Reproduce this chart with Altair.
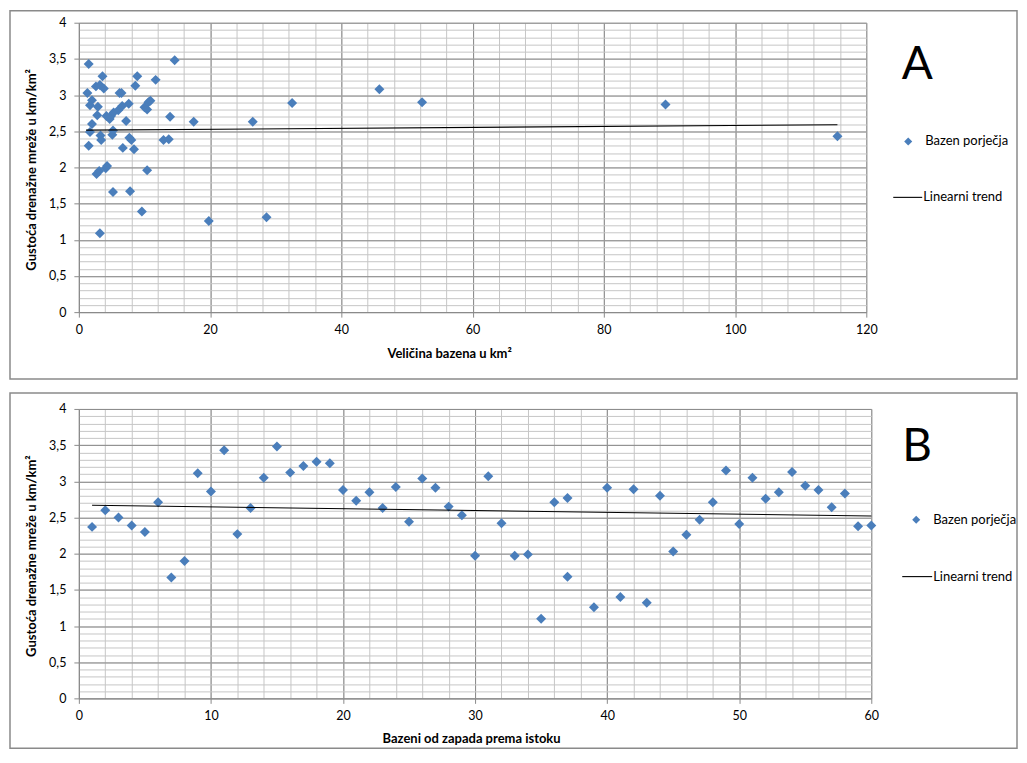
import altair as alt
import pandas as pd

# ---------------- data ----------------
# Panel A: basin size (km2) vs drainage density
size_a = [1.5, 1.3, 2.0, 1.7, 1.5, 1.7, 2.0, 2.8, 2.9, 2.6,
          3.2, 3.6, 3.8, 3.3, 3.4, 2.7, 3.1, 3.2, 4.1, 4.3,
          4.2, 4.7, 4.9, 5.3, 5.2, 5.1, 5.2, 6.0, 6.2, 6.5,
          6.6, 6.7, 7.2, 7.6, 7.7, 8.0, 7.8, 8.4, 8.6, 8.9,
          9.6, 10.0, 10.4, 10.6, 10.9, 10.4, 11.7, 12.9, 13.7, 13.9,
          14.6, 17.5, 19.8, 26.5, 28.6, 32.5, 45.8, 52.3, 89.4, 115.6]
dens_a = [3.43, 3.03, 2.93, 2.86, 2.30, 2.49, 2.60, 2.72, 2.84, 3.12,
          3.14, 3.26, 3.09, 2.44, 2.38, 1.91, 1.95, 1.09, 1.99, 2.02,
          2.71, 2.67, 2.71, 2.76, 2.51, 2.45, 1.66, 2.79, 3.03, 3.03,
          2.85, 2.27, 2.64, 2.88, 2.41, 2.38, 1.67, 2.25, 3.13, 3.26,
          1.39, 2.83, 2.80, 2.90, 2.92, 1.96, 3.21, 2.38, 2.39, 2.70,
          3.48, 2.63, 1.26, 2.63, 1.31, 2.89, 3.08, 2.90, 2.87, 2.43]
trend_a_x = [1.1, 115.6]
trend_a_y = [2.515, 2.59]

# Panel B: basins ordered west -> east
idx_b = [1, 2, 3, 4, 5, 6, 7, 8, 9, 10,
         11, 12, 13, 14, 15, 16, 17, 18, 19, 20,
         21, 22, 23, 24, 25, 26, 27, 28, 29, 30,
         31, 32, 33, 34, 35, 36, 37, 37, 39, 40,
         41, 42, 43, 44, 45, 46, 47, 48, 49, 50,
         51, 52, 53, 54, 55, 56, 57, 58, 59, 60]
dens_b = [2.37, 2.60, 2.50, 2.39, 2.30, 2.71, 1.67, 1.90, 3.11, 2.86,
          3.43, 2.27, 2.63, 3.05, 3.48, 3.12, 3.21, 3.27, 3.25, 2.88,
          2.73, 2.85, 2.63, 2.92, 2.44, 3.04, 2.91, 2.65, 2.53, 1.97,
          3.07, 2.42, 1.97, 1.99, 1.10, 2.71, 2.77, 1.68, 1.26, 2.91,
          1.40, 2.89, 1.32, 2.80, 2.03, 2.26, 2.47, 2.71, 3.15, 2.41,
          3.05, 2.76, 2.85, 3.13, 2.94, 2.88, 2.64, 2.83, 2.38, 2.39]
trend_b_x = [1, 60]
trend_b_y = [2.67, 2.52]

y_major = [0, 0.5, 1, 1.5, 2, 2.5, 3, 3.5, 4]
y_minor = [round(i * 0.1, 1) for i in range(41)]
xa_major = [0, 20, 40, 60, 80, 100, 120]
xa_minor = list(range(0, 121, 4))
xb_major = [0, 10, 20, 30, 40, 50, 60]
xb_minor = list(range(0, 61, 2))

y_title = "Gustoća drenažne mreže u km/km²"
xa_title = "Veličina bazena u km²"
xb_title = "Bazeni od zapada prema istoku"
legend_pts = "Bazen porječja"
legend_line = "Linearni trend"

# ---------------- style ----------------
FONT = "Lato"
GRID_MAJ = "#8a8a8a"
GRID_MIN = "#c6c6c6"
BLUE = "#4a7ebb"
LABEL_EXPR = "replace(toString(datum.value), '.', ',')"


def panel(xs, ys, xdomain, width, x_minor, x_major, x_title, x_title_x, x_title_y,
          tx, ty, letter, frame, leg):
    height = 290
    df = pd.DataFrame({"x": xs, "y": ys})
    tdf = pd.DataFrame({"x": tx, "y": ty})
    xsc = alt.Scale(domain=xdomain, nice=False, zero=False)
    ysc = alt.Scale(domain=[0, 4], nice=False)

    minor = alt.Chart(df).mark_point(opacity=0).encode(
        x=alt.X("x:Q", scale=xsc, axis=alt.Axis(
            values=x_minor, grid=True, gridColor=GRID_MIN, labels=False,
            ticks=False, domain=False, title=None, orient="bottom")),
        y=alt.Y("y:Q", scale=ysc, axis=alt.Axis(
            values=y_minor, grid=True, gridColor=GRID_MIN, labels=False,
            ticks=False, domain=False, title=None, orient="left")),
    )

    points = alt.Chart(df).mark_point(
        shape="diamond", filled=True, size=100, color=BLUE, opacity=1
    ).encode(
        x=alt.X("x:Q", scale=xsc, axis=alt.Axis(
            values=x_major, grid=True, gridColor=GRID_MAJ, domainColor=GRID_MAJ,
            tickColor=GRID_MAJ, tickSize=5, labelFont=FONT, labelFontSize=12.5,
            labelColor="black", labelPadding=6, labelFlush=False,
            title=x_title, titleFont=FONT, titleFontSize=13, titleFontWeight="bold",
            titleColor="black", titleX=x_title_x, titleY=x_title_y,
            titleBaseline="middle", titleAlign="center", orient="bottom")),
        y=alt.Y("y:Q", scale=ysc, axis=alt.Axis(
            values=y_major, grid=True, gridColor=GRID_MAJ, domainColor=GRID_MAJ,
            tickColor=GRID_MAJ, tickSize=5, labelFont=FONT, labelFontSize=12.5,
            labelColor="black", labelPadding=8, labelExpr=LABEL_EXPR,
            title=y_title, titleFont=FONT, titleFontSize=13, titleFontWeight="bold",
            titleColor="black", titleX=-47, titleY=147, titleAngle=270,
            titleBaseline="middle", titleAlign="center", orient="left")),
    )

    trend = alt.Chart(tdf).mark_line(color="black", strokeWidth=1.1).encode(
        x=alt.X("x:Q", scale=xsc, axis=None),
        y=alt.Y("y:Q", scale=ysc, axis=None),
    )

    one = pd.DataFrame({"t": [letter], "p": [legend_pts], "l": [legend_line]})
    fx0, fx1, fy0, fy1 = frame
    frame_mark = alt.Chart(one).mark_rect(
        filled=False, stroke="#8a8a8a", strokeWidth=1.5
    ).encode(x=alt.value(fx0), x2=alt.value(fx1), y=alt.value(fy0), y2=alt.value(fy1))

    letter_mark = alt.Chart(one).mark_text(
        font=FONT, fontSize=46, align="center", baseline="alphabetic", color="black"
    ).encode(x=alt.value(leg["lx"]), y=alt.value(leg["ly"]), text="t:N")

    leg_pt = alt.Chart(one).mark_point(
        shape="diamond", filled=True, size=65, color=BLUE, opacity=1
    ).encode(x=alt.value(leg["px"]), y=alt.value(leg["py"]))
    leg_pt_txt = alt.Chart(one).mark_text(
        font=FONT, fontSize=13, align="left", baseline="middle", color="black"
    ).encode(x=alt.value(leg["ptx"]), y=alt.value(leg["py"]), text="p:N")
    leg_ln = alt.Chart(one).mark_rule(color="black", strokeWidth=1.1).encode(
        x=alt.value(leg["lnx0"]), x2=alt.value(leg["lnx1"]), y=alt.value(leg["lny"]))
    leg_ln_txt = alt.Chart(one).mark_text(
        font=FONT, fontSize=13, align="left", baseline="middle", color="black"
    ).encode(x=alt.value(leg["lntx"]), y=alt.value(leg["lny"]), text="l:N")

    return alt.layer(
        minor, points, trend, frame_mark, letter_mark,
        leg_pt, leg_pt_txt, leg_ln, leg_ln_txt
    ).resolve_axis(x="independent", y="independent").properties(
        width=width, height=height)


chart_a = panel(
    size_a, dens_a, [0, 120], 789, xa_minor, xa_major, xa_title, 371, 41,
    trend_a_x, trend_a_y, "A", (-69, 940, -12, 357),
    dict(lx=840, ly=56, px=831, py=119, ptx=848, lnx0=816, lnx1=845, lny=175, lntx=846),
)
chart_b = panel(
    idx_b, dens_b, [0, 60], 794, xb_minor, xb_major, xb_title, 393, 40,
    trend_b_x, trend_b_y, "B", (-69, 940, -16, 340),
    dict(lx=840, ly=52, px=839, py=111, ptx=856, lnx0=825, lnx1=855, lny=168, lntx=856),
)

chart = alt.vconcat(chart_a, chart_b, spacing=10).properties(
    padding=0
).configure_view(stroke="transparent")

chart.save("out.html", embed_options={"renderer": "svg", "actions": False})
